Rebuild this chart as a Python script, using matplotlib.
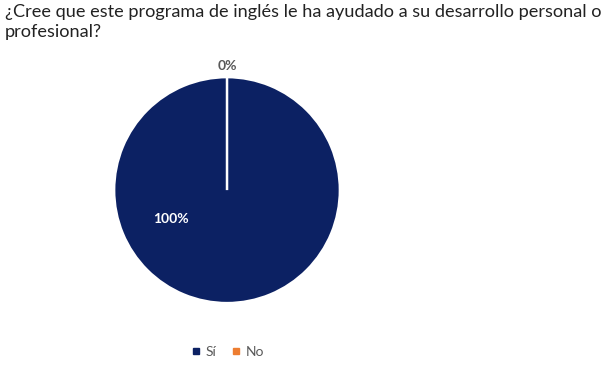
import matplotlib
matplotlib.use("Agg")
import matplotlib.pyplot as plt
from matplotlib.lines import Line2D

categories = ["Sí", "No"]
values = [100, 0]
colors = ["#0C2163", "#ED7D31"]
title = "¿Cree que este programa de inglés le ha ayudado a su desarrollo personal o\nprofesional?"

plt.rcParams['font.family'] = ['Lato', 'DejaVu Sans']

fig = plt.figure(figsize=(6.07, 3.75), dpi=100)
fig.patch.set_facecolor("white")
fig.text(0.008, 0.99, title, ha="left", va="top", fontsize=13.1, color="#222222", linespacing=1.3)

ax = fig.add_axes([0.374 - 0.186, 0.493 - 0.3013, 0.372, 0.6027])
wedges, _ = ax.pie(values, colors=colors, startangle=90, counterclock=False,
                   wedgeprops=dict(edgecolor="white", linewidth=1.8))
ax.set_xlim(-1, 1)
ax.set_ylim(-1, 1)
ax.set_aspect("auto")
ax.axis("off")

total = sum(values)
ax.text(-0.50, -0.26, f"{values[0]/total:.0%}", ha="center", va="center",
        color="white", fontsize=10, fontweight="bold", clip_on=False)
ax.text(0.0, 1.10, f"{values[1]/total:.0%}", ha="center", va="center",
        color="#595959", fontsize=10, fontweight="bold", clip_on=False)

handles = [Line2D([0], [0], marker="s", linestyle="none", markersize=4,
                  markerfacecolor=c, markeredgecolor=c) for c in colors]
leg = fig.legend(handles, categories, loc="center", bbox_to_anchor=(0.374, 0.061),
                 ncol=2, frameon=False, fontsize=10, handletextpad=0.3,
                 columnspacing=1.0, handlelength=0.8)
for t in leg.get_texts():
    t.set_color("#595959")

fig.savefig("out.png", dpi=100)
